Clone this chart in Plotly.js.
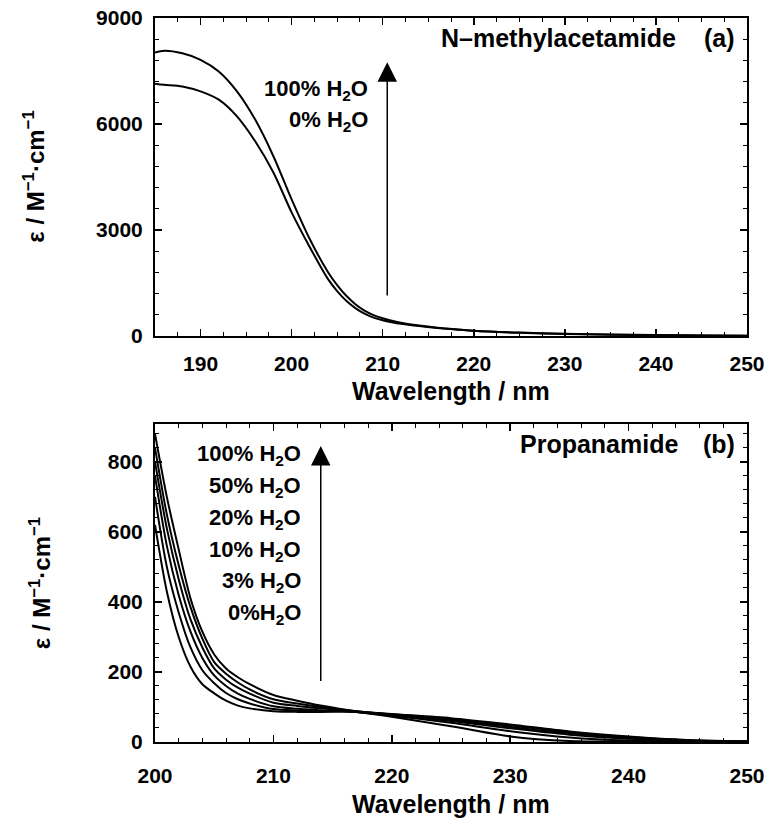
<!DOCTYPE html>
<html>
<head>
<meta charset="utf-8">
<script src="https://cdn.plot.ly/plotly-3.0.1.min.js"></script>
<style>html,body{margin:0;padding:0;background:#fff;}#chart{width:775px;height:830px;}</style>
</head>
<body>
<div id="chart"></div>
<script>
// ---- Panel (a): N-methylacetamide ----
const nmaWavelength = [185,186,188,190,192,194,196,198,200,202,204,205,206,207,208,209,210,211,212,214,216,218,220,225,230,235,240,245,250];
const nma100 = [8020,8070,8000,7817,7487,6923,6124,5088,3866,2737,1806,1440,1137,900,720,590,500,430,375,295,235,190,150,95,60,40,25,15,10];
const nma0   = [7140,7110,7064,6923,6688,6217,5512,4628,3499,2512,1608,1270,996,790,630,520,445,390,345,280,228,185,145,90,58,38,24,14,10];

// ---- Panel (b): Propanamide ----
const propWavelength = [200,201,202,203,204,205,206,207,208,210,212,214,217,220,225,230,235,240,245,250];
const prop100 = [880,700,550,410,315,250,210,185,165,134,118,104,88,80,68,50,30,16,6,2];
const prop50  = [840,650,505,385,295,228,195,170,150,122,110,100,88,79,66,47,28,14,5,2];
const prop20  = [800,610,465,350,270,210,178,155,138,112,103,96,87,78,63,43,25,12,4,1];
const prop10  = [760,560,420,315,240,190,160,138,123,102,95,91,86,77,60,39,21,9,3,1];
const prop3   = [700,500,370,270,205,168,140,122,110,94,90,88,86,75,55,31,13,4,1,0];
const prop0   = [620,430,300,215,165,139,118,104,96,88,86,86,86,72,45,16,3,1,0,0];

const propSeries = [prop100, prop50, prop20, prop10, prop3, prop0];
const propLabels = ['100% H<sub>2</sub>O','50% H<sub>2</sub>O','20% H<sub>2</sub>O','10% H<sub>2</sub>O','3% H<sub>2</sub>O','0%H<sub>2</sub>O'];
const nmaLabels = ['100% H<sub>2</sub>O','0% H<sub>2</sub>O'];

const FONT = 'Liberation Sans, Arial, Helvetica, sans-serif';
const lineStyle = {color:'#000', width:2, shape:'spline', smoothing:0.8};

const traces = [
  {x:nmaWavelength, y:nma100, xaxis:'x', yaxis:'y', mode:'lines', line:lineStyle, hoverinfo:'skip'},
  {x:nmaWavelength, y:nma0, xaxis:'x', yaxis:'y', mode:'lines', line:lineStyle, hoverinfo:'skip'}
];
propSeries.forEach(s => traces.push({x:propWavelength, y:s, xaxis:'x2', yaxis:'y2', mode:'lines', line:lineStyle, hoverinfo:'skip'}));

function axisBase(extra){
  return Object.assign({
    showgrid:false, zeroline:false, showline:true, linecolor:'#000', linewidth:2,
    mirror:'allticks', ticks:'inside', ticklen:7, tickwidth:1.5, tickcolor:'#000',
    tickfont:{family:FONT, size:21, color:'#000', weight:'bold'}
  }, extra);
}

const annFont = (size) => ({family:FONT, size:size, color:'#000', weight:'bold'});
const annotations = [];
// axis titles
annotations.push({xref:'x domain', yref:'y domain', x:0.5, y:-0.173, text:'Wavelength / nm', showarrow:false, font:annFont(25), xanchor:'center', yanchor:'middle'});
annotations.push({xref:'x2 domain', yref:'y2 domain', x:0.5, y:-0.195, text:'Wavelength / nm', showarrow:false, font:annFont(25), xanchor:'center', yanchor:'middle'});
annotations.push({xref:'x domain', yref:'y domain', x:-0.205, y:0.5, text:'ε / M<sup>−1</sup>·cm<sup>−1</sup>', textangle:-90, showarrow:false, font:annFont(24), xanchor:'center', yanchor:'middle'});
annotations.push({xref:'x2 domain', yref:'y2 domain', x:-0.194, y:0.5, text:'ε / M<sup>−1</sup>·cm<sup>−1</sup>', textangle:-90, showarrow:false, font:annFont(24), xanchor:'center', yanchor:'middle'});
// panel labels
annotations.push({xref:'x domain', yref:'y domain', x:0.8834, y:0.937, text:'N–methylacetamide', showarrow:false, font:annFont(25), xanchor:'right', yanchor:'middle'});
annotations.push({xref:'x domain', yref:'y domain', x:0.983, y:0.937, text:'(a)', showarrow:false, font:annFont(25), xanchor:'right', yanchor:'middle'});
annotations.push({xref:'x2 domain', yref:'y2 domain', x:0.8868, y:0.937, text:'Propanamide', showarrow:false, font:annFont(25), xanchor:'right', yanchor:'middle'});
annotations.push({xref:'x2 domain', yref:'y2 domain', x:0.983, y:0.937, text:'(b)', showarrow:false, font:annFont(25), xanchor:'right', yanchor:'middle'});
// series labels
const nmaLabelY = [0.7736, 0.676];
nmaLabels.forEach((t,i) => annotations.push({xref:'x domain', yref:'y domain', x:0.3632, y:nmaLabelY[i], text:t, showarrow:false, font:annFont(22), xanchor:'right', yanchor:'middle'}));
const propLabelY = [0.9025, 0.8019, 0.7013, 0.6006, 0.5031, 0.4025];
propLabels.forEach((t,i) => annotations.push({xref:'x2 domain', yref:'y2 domain', x:0.25, y:propLabelY[i], text:t, showarrow:false, font:annFont(22), xanchor:'right', yanchor:'middle'}));
// arrows
annotations.push({xref:'x', yref:'y', axref:'x', ayref:'y', x:210.5, y:7750, ax:210.5, ay:1100, text:'', showarrow:true, arrowhead:2, arrowsize:2.6, arrowwidth:1.5, arrowcolor:'#000'});
annotations.push({xref:'x2', yref:'y2', axref:'x2', ayref:'y2', x:214, y:845, ax:214, ay:170, text:'', showarrow:true, arrowhead:2, arrowsize:2.6, arrowwidth:1.5, arrowcolor:'#000'});

const layout = {
  width:775, height:830,
  margin:{l:155, r:28, t:18, b:88},
  paper_bgcolor:'#fff', plot_bgcolor:'#fff',
  showlegend:false,
  font:{family:FONT, color:'#000'},
  xaxis: axisBase({domain:[0,1], anchor:'y', range:[185,250], tick0:190, dtick:10, minor:{dtick:2.5, tick0:185, ticklen:4, ticks:'inside', tickcolor:'#000', tickwidth:1}, ticklabelstandoff:8}),
  yaxis: axisBase({domain:[0.5608,1], anchor:'x', range:[0,9000], dtick:3000, minor:{dtick:600, ticklen:4, ticks:'inside', tickcolor:'#000', tickwidth:1}, ticklabelstandoff:6}),
  xaxis2: axisBase({domain:[0,1], anchor:'y2', range:[200,250], dtick:10, minor:{dtick:2, ticklen:4, ticks:'inside', tickcolor:'#000', tickwidth:1}, ticklabelstandoff:14}),
  yaxis2: axisBase({domain:[0,0.4392], anchor:'x2', range:[0,908], dtick:200, minor:{dtick:40, ticklen:4, ticks:'inside', tickcolor:'#000', tickwidth:1}, ticklabelstandoff:6}),
  annotations: annotations
};

Plotly.newPlot('chart', traces, layout, {staticPlot:true, displayModeBar:false});
</script>
</body>
</html>
